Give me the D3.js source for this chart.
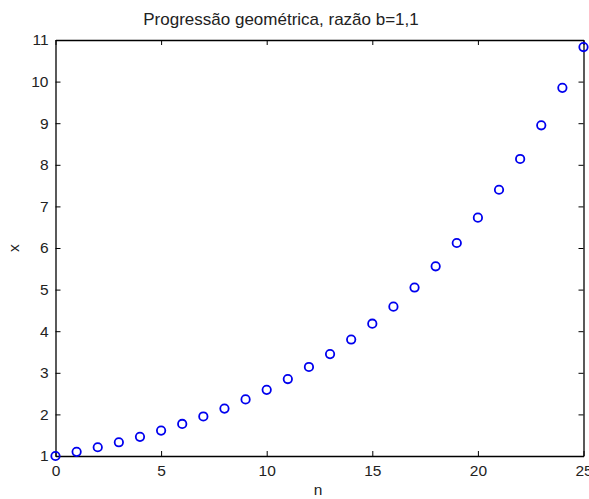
<!DOCTYPE html>
<html><head><meta charset="utf-8">
<script src="https://cdn.jsdelivr.net/npm/d3@7"></script>
<style>body{margin:0;background:#fff;} svg{display:block;}</style>
</head><body>
<svg id="c" width="589" height="499"></svg>
<script>
const nValues = [0,1,2,3,4,5,6,7,8,9,10,11,12,13,14,15,16,17,18,19,20,21,22,23,24,25];
const xValues = [1.00,1.10,1.21,1.33,1.46,1.61,1.77,1.95,2.14,2.36,2.59,2.85,3.14,3.45,3.80,4.18,4.59,5.05,5.56,6.12,6.73,7.40,8.14,8.95,9.85,10.83];
const xTicks = [0,5,10,15,20,25];
const yTicks = [1,2,3,4,5,6,7,8,9,10,11];
const titleText = "Progressão geométrica, razão b=1,1";

const svg = d3.select("#c");
const L = 55.5, R = 583.5, T = 40, B = 456;
const x = d3.scaleLinear().domain([0,25]).range([L,R]);
const y = d3.scaleLinear().domain([1,11]).range([B,T]);
const font = "Liberation Sans, Arial, sans-serif";

svg.append("rect").attr("x",0).attr("y",0).attr("width",589).attr("height",499).attr("fill","#fff");

const gx = svg.append("g").attr("transform",`translate(0,${B})`)
  .call(d3.axisBottom(x).tickValues(xTicks).tickSizeInner(-5).tickSizeOuter(0).tickPadding(9));
const gxt = svg.append("g").attr("transform",`translate(0,${T})`)
  .call(d3.axisTop(x).tickValues(xTicks).tickSizeInner(-5).tickSizeOuter(0).tickFormat(""));
const gy = svg.append("g").attr("transform",`translate(${L},0)`)
  .call(d3.axisLeft(y).tickValues(yTicks).tickSizeInner(-5).tickSizeOuter(0).tickPadding(7));
const gyr = svg.append("g").attr("transform",`translate(${R},0)`)
  .call(d3.axisRight(y).tickValues(yTicks).tickSizeInner(-5).tickSizeOuter(0).tickFormat(""));

[gx,gxt,gy,gyr].forEach(g=>{
  g.selectAll("path").attr("stroke","#000").attr("stroke-width",1.3);
  g.selectAll("line").attr("stroke","#000").attr("stroke-width",1);
  g.selectAll("text").attr("fill","#222").style("font-family",font).style("font-size","15.5px");
});

svg.append("g").selectAll("circle").data(nValues).enter().append("circle")
  .attr("cx",(d,i)=>x(d)).attr("cy",(d,i)=>y(xValues[i])).attr("r",4.2)
  .attr("fill","none").attr("stroke","#0000ee").attr("stroke-width",1.8);

svg.append("text").attr("x",281).attr("y",25).attr("text-anchor","middle")
  .style("font-family",font).style("font-size","17px").attr("fill","#222").text(titleText);
svg.append("text").attr("x",318).attr("y",495).attr("text-anchor","middle")
  .style("font-family",font).style("font-size","15.5px").attr("fill","#222").text("n");
svg.append("text").attr("transform","translate(19,248) rotate(-90)").attr("text-anchor","middle")
  .style("font-family",font).style("font-size","15.5px").attr("fill","#222").text("x");
</script>
</body></html>
